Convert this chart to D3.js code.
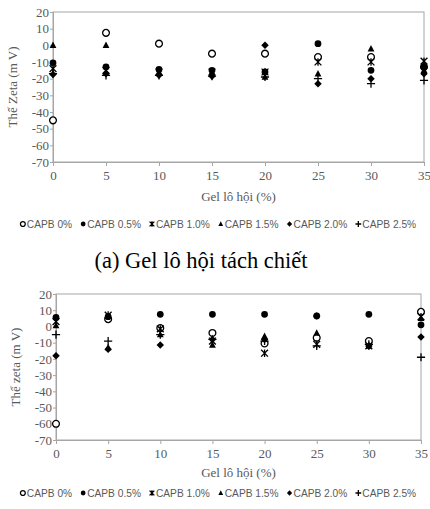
<!DOCTYPE html>
<html>
<head>
<meta charset="utf-8">
<script src="https://cdn.jsdelivr.net/npm/d3@7"></script>
<style>
  body { margin: 0; background: #fff; }
  svg { display: block; }
  .ttl { font-family: "Liberation Serif", "Times New Roman", serif; font-size: 13px; fill: #595959; }
  .leg { font-family: "Liberation Sans", Arial, sans-serif; font-size: 10.2px; fill: #595959; }
  .cap { font-family: "Liberation Serif", "Times New Roman", serif; font-size: 22.5px; fill: #000; }
</style>
</head>
<body>
<div id="chart"></div>
<script>
// Gel lo hoi (%) tren truc x
var xVals = [0, 5, 10, 15, 20, 25, 30, 35];
var seriesNames = ["CAPB 0%", "CAPB 0.5%", "CAPB 1.0%", "CAPB 1.5%", "CAPB 2.0%", "CAPB 2.5%"];
var yTicks = [20, 10, 0, -10, -20, -30, -40, -50, -60, -70];
var xTicks = [0, 5, 10, 15, 20, 25, 30, 35];

// (a) Gel lo hoi tach chiet
var capb0a  = [-45, 7.5, 1, -5, -5, -7, -7, -13];
var capb05a = [-10.5, -13, -14.5, -15, -16, 1, -15, -13];
var capb10a = [-14, -15, -16, -16, -16, -10, -10, -9.5];
var capb15a = [0, 0, -16, -16, -19, -17, -2, -15];
var capb20a = [-17.5, -17, -18, -18.5, 0, -23, -20, -17];
var capb25a = [-17, -18, -18, -18.5, -19, -20, -23, -21];

// chart duoi
var capb0b  = [-60, 4.5, -1, -4, -10.5, -7, -9, 9];
var capb05b = [5.5, 6, 7.5, 7.5, 7.5, 6.5, 7.5, 1];
var capb10b = [3, 7, -1.5, -9, -16.5, -11, -12, 6];
var capb15b = [0.5, -13, -5, -11.5, -6, -4, -12, 5];
var capb20b = [-18, -14, -11.5, -8, -8, 6.5, -12, -6.5];
var capb25b = [-5, -9, -5, -8, -9, -12, -11, -19];

var W = 430, H = 509;
var svg = d3.select("#chart").append("svg").attr("width", W).attr("height", H);

// marker shapes (Excel-like)
function markerPath(kind, r) {
    var p = d3.path();
    if (kind == 0 || kind == 1) {
        p.arc(0, 0, r, 0, 2 * Math.PI);
    } else if (kind == 2) {
        p.moveTo(-r, -r); p.lineTo(r, r);
        p.moveTo(-r, r); p.lineTo(r, -r);
        p.moveTo(0, -r * 1.1); p.lineTo(0, r * 1.1);
    } else if (kind == 3) {
        p.moveTo(0, -r * 1.1); p.lineTo(r, r * 0.8); p.lineTo(-r, r * 0.8); p.closePath();
    } else if (kind == 4) {
        p.moveTo(0, -r * 1.1); p.lineTo(r * 1.1, 0); p.lineTo(0, r * 1.1); p.lineTo(-r * 1.1, 0); p.closePath();
    } else {
        p.moveTo(-r * 1.2, 0); p.lineTo(r * 1.2, 0);
        p.moveTo(0, -r * 1.2); p.lineTo(0, r * 1.2);
    }
    return p.toString();
}
function styleMarker(sel, kind) {
    if (kind == 0) sel.attr("fill", "#fff").attr("stroke", "#000").attr("stroke-width", 1.3);
    else if (kind == 2 || kind == 5) sel.attr("fill", "none").attr("stroke", "#000").attr("stroke-width", 1.3);
    else sel.attr("fill", "#000").attr("stroke", "none");
}

function drawPanel(cfg) {
    var x = d3.scaleLinear().domain([0, 35]).range([cfg.left, cfg.right]);
    var y = d3.scaleLinear().domain([-70, 20]).range([cfg.bottom, cfg.top]);
    var g = svg.append("g");

    //Rahmen
    g.append("rect")
        .attr("x", cfg.left).attr("y", cfg.top)
        .attr("width", cfg.right - cfg.left).attr("height", cfg.bottom - cfg.top)
        .attr("fill", "none").attr("stroke", "#a6a6a6").attr("stroke-width", 1);

    var xa = g.append("g").attr("transform", "translate(0," + cfg.bottom + ")")
        .call(d3.axisBottom(x).tickValues(xTicks).tickSize(4).tickPadding(5).tickFormat(d3.format("d")));
    var ya = g.append("g").attr("transform", "translate(" + cfg.left + ",0)")
        .call(d3.axisLeft(y).tickValues(yTicks).tickSize(3).tickPadding(1).tickFormat(d3.format("d")));
    [xa, ya].forEach(function(a) {
        a.attr("font-family", null).attr("font-size", null);
        a.select(".domain").attr("stroke", "#a6a6a6");
        a.selectAll(".tick line").attr("stroke", "#a6a6a6");
        a.selectAll(".tick text")
            .style("font-family", "'Liberation Serif', 'Times New Roman', serif")
            .style("font-size", "13px")
            .style("fill", "#595959");
    });
    ya.selectAll(".tick text").text(function(d) { return d < 0 ? "-" + Math.abs(d) : d; });

    g.append("text").attr("class", "ttl")
        .attr("x", (cfg.left + cfg.right) / 2).attr("y", cfg.xtitleY)
        .attr("text-anchor", "middle").text("Gel lô hội (%)");
    g.append("text").attr("class", "ttl")
        .attr("transform", "translate(" + cfg.ytitleX + "," + (cfg.top + cfg.bottom) / 2 + ") rotate(-90)")
        .attr("text-anchor", "middle").text(cfg.ytitle);

    cfg.series.forEach(function(vals, k) {
        g.append("g").selectAll("path").data(vals).enter().append("path")
            .attr("transform", function(d, i) { return "translate(" + x(xVals[i]) + "," + y(d) + ")"; })
            .attr("d", markerPath(k, 3.4))
            .call(styleMarker, k);
    });

    // Legende
    var leg = g.append("g");
    var cx = 0;
    seriesNames.forEach(function(name, k) {
        var it = leg.append("g").attr("transform", "translate(" + cx + ",0)");
        it.append("path").attr("transform", "translate(3,0)").attr("d", markerPath(k, 2.4)).call(styleMarker, k);
        var t = it.append("text").attr("class", "leg").attr("x", 7).attr("y", 3.5).text(name);
        cx += 7 + t.node().getComputedTextLength() + 8;
    });
    var total = cx - 8;
    leg.attr("transform", "translate(" + (218 - total / 2) + "," + cfg.legendY + ")");
}

drawPanel({ left: 53, right: 424, top: 12, bottom: 162, xtitleY: 201, ytitleX: 17, legendY: 224,
    ytitle: "Thế Zeta (m V)", series: [capb0a, capb05a, capb10a, capb15a, capb20a, capb25a] });

svg.append("text").attr("class", "cap")
    .attr("x", 201).attr("y", 268).attr("text-anchor", "middle")
    .text("(a) Gel lô hội tách chiết");

drawPanel({ left: 56, right: 421, top: 294, bottom: 440, xtitleY: 477, ytitleX: 20, legendY: 493,
    ytitle: "Thể zeta (m V)", series: [capb0b, capb05b, capb10b, capb15b, capb20b, capb25b] });
</script>
</body>
</html>
